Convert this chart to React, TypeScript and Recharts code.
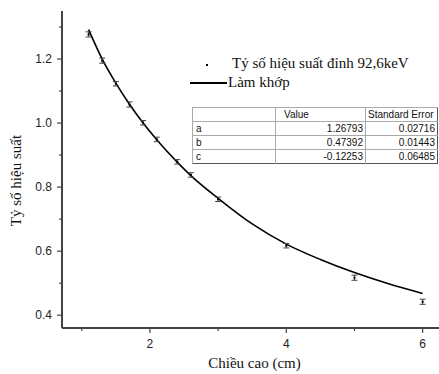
import { ComposedChart, Line, Scatter, ErrorBar, XAxis, YAxis, Label } from "recharts";

// measured points (height in cm -> efficiency ratio)
const heights = [1.1, 1.3, 1.5, 1.7, 1.9, 2.1, 2.4, 2.6, 3.0, 4.0, 5.0, 6.0];
const ratios = [1.277, 1.195, 1.123, 1.058, 1.001, 0.949, 0.879, 0.838, 0.762, 0.617, 0.517, 0.442];
const ratioErrors = [0.008, 0.008, 0.007, 0.008, 0.007, 0.007, 0.007, 0.007, 0.007, 0.007, 0.008, 0.008];

// fitted curve
const fitHeights = [1.1, 1.3, 1.5, 1.7, 1.9, 2.1, 2.4, 2.6, 3.0, 3.5, 4.0, 4.5, 5.0, 5.5, 6.0];
const fitValues = [1.292, 1.2, 1.125, 1.059, 1.0, 0.948, 0.878, 0.836, 0.765, 0.685, 0.622, 0.574, 0.533, 0.498, 0.468];

const xTicks = [1, 2, 3, 4, 5, 6];
const xLabeled = [2, 4, 6];
const yTicks = [0.4, 0.5, 0.6, 0.7, 0.8, 0.9, 1.0, 1.1, 1.2, 1.3];
const yLabeled = [0.4, 0.6, 0.8, 1.0, 1.2];

const paramNames = ["a", "b", "c"];
const paramValues = ["1.26793", "0.47392", "-0.12253"];
const paramErrors = ["0.02716", "0.01443", "0.06485"];

const points = heights.map((x, i) => ({ x, y: ratios[i], err: ratioErrors[i] }));
const fit = fitHeights.map((x, i) => ({ x, y: fitValues[i] }));

const SERIF = '"Liberation Serif", "Times New Roman", serif';
const SANS = '"Liberation Sans", Arial, sans-serif';
const AXIS = "#444";

const XTick = (props: any) => {
  const { x, y, payload } = props;
  const major = xLabeled.includes(payload.value);
  return (
    <g>
      <line x1={x} y1={y} x2={x} y2={y + (major ? 5 : 3)} stroke={AXIS} strokeWidth={1.2} />
      {major && (
        <text x={x} y={y + 20} textAnchor="middle" fontFamily={SANS} fontSize={12} fill="#222">
          {payload.value}
        </text>
      )}
    </g>
  );
};

const YTick = (props: any) => {
  const { x, y, payload } = props;
  const major = yLabeled.some((v) => Math.abs(v - payload.value) < 1e-6);
  return (
    <g>
      <line x1={x - (major ? 5 : 3)} y1={y} x2={x} y2={y} stroke={AXIS} strokeWidth={1.2} />
      {major && (
        <text x={x - 10} y={y + 4} textAnchor="end" fontFamily={SANS} fontSize={12} fill="#222">
          {payload.value.toFixed(1)}
        </text>
      )}
    </g>
  );
};

const Dot = (props: any) => <rect x={props.cx - 1} y={props.cy - 1} width={2} height={2} fill="#000" />;

export default function App() {
  const cell = { padding: "0 2px", height: 13, lineHeight: "13px", borderTop: "1px solid #aaa", borderLeft: "1px solid #aaa" };
  return (
    <div style={{ position: "absolute", left: 0, top: 0, width: 439, height: 374, background: "#fff" }}>
      <ComposedChart width={439} height={374} margin={{ top: 11, right: 0, bottom: 0, left: 0 }}>
        <XAxis
          type="number"
          dataKey="x"
          domain={[0.71, 6.24]}
          ticks={xTicks}
          tick={<XTick />}
          tickLine={false}
          tickSize={0}
          tickMargin={0}
          height={46}
          allowDataOverflow
          axisLine={{ stroke: AXIS, strokeWidth: 2 }}
        >
          <Label
            content={(p: any) => (
              <text x={p.viewBox.x + p.viewBox.width / 2 + 4} y={p.viewBox.y + 40} textAnchor="middle" fontFamily={SERIF} fontSize={15} fill="#111">
                Chiều cao (cm)
              </text>
            )}
          />
        </XAxis>
        <YAxis
          type="number"
          dataKey="y"
          domain={[0.36, 1.35]}
          ticks={yTicks}
          tick={<YTick />}
          tickLine={false}
          tickSize={0}
          tickMargin={0}
          width={62}
          allowDataOverflow
          axisLine={{ stroke: AXIS, strokeWidth: 2 }}
        >
          <Label
            content={(p: any) => {
              const cx = p.viewBox.x + 21;
              const cy = p.viewBox.y + p.viewBox.height / 2 + 11;
              return (
                <text x={cx} y={cy} transform={`rotate(-90 ${cx} ${cy})`} textAnchor="middle" fontFamily={SERIF} fontSize={15} fill="#111">
                  Tỷ số hiệu suất
                </text>
              );
            }}
          />
        </YAxis>
        <Line data={fit} dataKey="y" type="monotone" stroke="#000" strokeWidth={1.6} dot={false} isAnimationActive={false} />
        <Scatter data={points} dataKey="y" shape={<Dot />} isAnimationActive={false}>
          <ErrorBar dataKey="err" direction="y" width={3} stroke="#444" strokeWidth={1} />
        </Scatter>
      </ComposedChart>

      <div style={{ position: "absolute", left: 206, top: 64, width: 2, height: 2, background: "#000" }} />
      <div style={{ position: "absolute", left: 232, top: 55, fontFamily: SERIF, fontSize: 15, lineHeight: "17px", color: "#111", whiteSpace: "nowrap" }}>
        Tỷ số hiệu suất đỉnh 92,6keV
      </div>
      <div style={{ position: "absolute", left: 190, top: 82, width: 37, height: 1.5, background: "#000" }} />
      <div style={{ position: "absolute", left: 228, top: 74, fontFamily: SERIF, fontSize: 15, lineHeight: "17px", color: "#111", whiteSpace: "nowrap" }}>
        Làm khớp
      </div>

      <table
        style={{
          position: "absolute",
          left: 192,
          top: 107,
          width: 245,
          borderCollapse: "collapse",
          border: "1px solid #555",
          fontFamily: SANS,
          fontSize: 10,
          color: "#111",
          background: "#fff",
          tableLayout: "fixed",
        }}
      >
        <colgroup>
          <col style={{ width: 83 }} />
          <col style={{ width: 90 }} />
          <col style={{ width: 72 }} />
        </colgroup>
        <tbody>
          <tr>
            <td style={cell}></td>
            <td style={{ ...cell, paddingLeft: 8 }}>Value</td>
            <td style={{ ...cell, whiteSpace: "nowrap", overflow: "hidden" }}>Standard Error</td>
          </tr>
          {paramNames.map((n, i) => (
            <tr key={n}>
              <td style={{ ...cell, paddingLeft: 3 }}>{n}</td>
              <td style={{ ...cell, textAlign: "right" }}>{paramValues[i]}</td>
              <td style={{ ...cell, textAlign: "right" }}>{paramErrors[i]}</td>
            </tr>
          ))}
        </tbody>
      </table>
    </div>
  );
}
